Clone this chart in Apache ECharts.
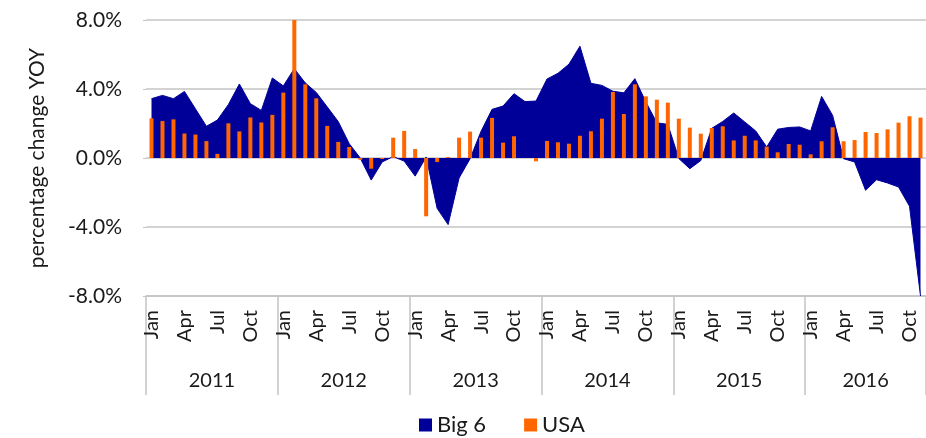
<!DOCTYPE html>
<html>
<head>
<meta charset="utf-8">
<script src="https://cdn.jsdelivr.net/npm/echarts@6/dist/echarts.min.js"></script>
<style>
  html, body { margin: 0; padding: 0; background: #fff; }
  #chart { width: 926px; height: 438px; }
</style>
</head>
<body>
<div id="chart"></div>
<script>
// months Jan 2011 .. Nov 2016
var monthNames = ['Jan','Feb','Mar','Apr','May','Jun','Jul','Aug','Sep','Oct','Nov','Dec'];
var years = ['2011','2012','2013','2014','2015','2016'];
var months = [];
for (var y = 0; y < years.length; y++) {
    for (var m = 0; m < 12; m++) {
        if (y == 5 && m == 11) break;
        months.push(monthNames[m]);
    }
}

// Big 6 (area), % yoy
var big6 = [
    3.44, 3.63, 3.44, 3.86, 2.85, 1.84, 2.2, 3.1, 4.29, 3.15, 2.76, 4.64,
    4.18, 5.18, 4.35, 3.8, 2.96, 2.11, 0.83, 0.0, -1.28, -0.23, 0.08, -0.18,
    -1.05, 0.06, -2.92, -3.86, -1.16, -0.04, 1.55, 2.82, 3.01, 3.73, 3.27, 3.3,
    4.58, 4.91, 5.44, 6.48, 4.33, 4.21, 3.87, 3.78, 4.6, 3.25, 2.04, 1.95,
    -0.03, -0.62, -0.15, 1.72, 2.12, 2.61, 2.09, 1.57, 0.64, 1.67, 1.77, 1.8,
    1.57, 3.57, 2.47, -0.04, -0.23, -1.87, -1.26, -1.45, -1.68, -2.8, -8.0
];

// USA (bars), % yoy
var usa = [
    2.3, 2.14, 2.24, 1.42, 1.36, 0.98, 0.24, 2.01, 1.54, 2.35, 2.06, 2.5,
    3.79, 8.0, 4.27, 3.46, 1.86, 0.93, 0.64, -0.1, -0.62, -0.06, 1.18, 1.57,
    0.52, -3.38, -0.23, 0.06, 1.18, 1.53, 1.18, 2.32, 0.89, 1.26, 0.0, -0.19,
    0.99, 0.91, 0.83, 1.29, 1.55, 2.28, 3.83, 2.55, 4.27, 3.57, 3.38, 3.21,
    2.28, 1.76, 1.41, 1.74, 1.84, 1.02, 1.29, 1.02, 0.66, 0.33, 0.81, 0.77,
    0.21, 0.97, 1.78, 0.97, 1.04, 1.51, 1.45, 1.66, 2.05, 2.42, 2.34
];

var txt = '#1a1a1a';
var gridCol = '#c4c4c4';
var font = 'Lato';

var myChart = echarts.init(document.getElementById('chart'));

var option = {
    animation: false,
    textStyle: { fontFamily: font },
    grid: { left: 146, top: 20, width: 781, bottom: 142, containLabel: false },
    legend: {
        top: 409,
        left: 414,
        icon: 'rect',
        itemWidth: 13,
        itemHeight: 13,
        itemGap: 38,
        textStyle: { fontSize: 22, color: txt, fontFamily: font },
        data: ['Big 6', 'USA']
    },
    xAxis: [
        {
            type: 'category',
            data: months,
            position: 'bottom',
            axisLine: { onZero: false, lineStyle: { color: gridCol, width: 1.5 } },
            axisTick: { show: false },
            axisLabel: {
                interval: 2,
                rotate: 90,
                margin: 14,
                fontSize: 20,
                color: txt,
                hideOverlap: false
            }
        },
        {
            type: 'category',
            data: months,
            position: 'bottom',
            axisLine: { show: false, onZero: false },
            axisTick: {
                show: true,
                length: 99,
                lineStyle: { color: gridCol, width: 1.5 },
                interval: function(index) { return index % 12 == 0; }
            },
            axisLabel: {
                margin: 75,
                fontSize: 20,
                color: txt,
                hideOverlap: false,
                interval: function(index) { return index % 12 == 5; },
                formatter: function(value, index) {
                    var yr = years[Math.floor(index / 12)];
                    // 2016 only has 11 months, so it is centred on Jun
                    if (yr == '2016') return '{b|' + yr + '}';
                    return '{a|' + yr + '}';
                },
                rich: {
                    a: { fontSize: 20, color: txt, fontFamily: font, padding: [0, 0, 0, 11] },
                    b: { fontSize: 20, color: txt, fontFamily: font }
                }
            }
        }
    ],
    yAxis: {
        type: 'value',
        min: -8,
        max: 8,
        interval: 4,
        name: 'percentage change YOY',
        nameLocation: 'middle',
        nameGap: 98,
        nameTextStyle: { fontSize: 21, color: txt, fontFamily: font },
        axisLine: { show: false },
        axisTick: { show: true, length: 3, lineStyle: { color: gridCol } },
        axisLabel: {
            margin: 24,
            fontSize: 21,
            color: txt,
            formatter: function(v) { return v.toFixed(1) + '%'; }
        },
        splitLine: { lineStyle: { color: gridCol, width: 1.5 } }
    },
    series: [
        {
            name: 'Big 6',
            type: 'line',
            data: big6,
            symbol: 'none',
            lineStyle: { color: '#000099', width: 1 },
            itemStyle: { color: '#000099' },
            areaStyle: { color: '#000099', opacity: 1 },
            z: 2
        },
        {
            name: 'USA',
            type: 'bar',
            data: usa,
            barWidth: 4,
            itemStyle: { color: '#ff6600' },
            z: 3
        }
    ]
};

myChart.setOption(option);
</script>
</body>
</html>
